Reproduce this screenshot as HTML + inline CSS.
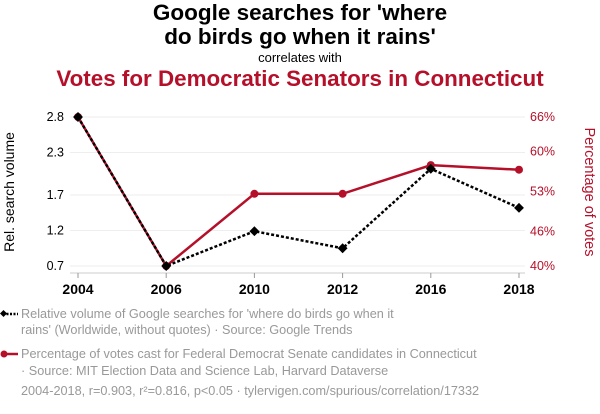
<!DOCTYPE html>
<html><head><meta charset="utf-8"><style>
body{margin:0;width:600px;height:414px;background:#fff;font-family:"Liberation Sans",sans-serif;overflow:hidden;position:relative}
.t{position:absolute;white-space:nowrap}
</style></head><body>
<div class="t" style="left:0;width:600px;text-align:center;top:1px;font-size:22.5px;font-weight:bold;line-height:24px;color:#000">Google searches for 'where<br>do birds go when it rains'</div>
<div class="t" style="left:0;width:600px;text-align:center;top:50px;font-size:13px;color:#000">correlates with</div>
<div class="t" style="left:0;width:600px;text-align:center;top:66px;font-size:22.4px;font-weight:bold;color:#b5102a">Votes for Democratic Senators in Connecticut</div>
<svg id="chart" width="600" height="300" style="position:absolute;left:0;top:0" font-family="Liberation Sans, sans-serif"></svg>
<div class="t" style="left:21px;top:306px;font-size:12.7px;line-height:16px;color:#999">Relative volume of Google searches for 'where do birds go when it<br>rains' (Worldwide, without quotes) · Source: Google Trends</div>
<div class="t" style="left:21px;top:346px;font-size:12.7px;line-height:17px;color:#999">Percentage of votes cast for Federal Democrat Senate candidates in Connecticut<br>· Source: MIT Election Data and Science Lab, Harvard Dataverse</div>
<div class="t" style="left:21px;top:384px;font-size:12.7px;color:#999">2004-2018, r=0.903, r²=0.816, p&lt;0.05 · tylervigen.com/spurious/correlation/17332</div>
<svg width="22" height="80" style="position:absolute;left:0;top:305px">
<line x1="3" y1="9" x2="18" y2="9" stroke="#000" stroke-width="2.5" stroke-dasharray="2,1.5"/><rect x="1" y="6" width="5" height="5" transform="rotate(45 3.5 8.5)" fill="#000"/>
<line x1="3" y1="49" x2="18" y2="49" stroke="#b5102a" stroke-width="2.5"/><circle cx="4" cy="49" r="3.5" fill="#b5102a"/>
</svg>
<script>
const years=["2004","2006","2010","2012","2016","2018"];
const searches=[2.8,0.7,1.19,0.95,2.07,1.52];
const votes=[66,40,52.6,52.6,57.6,56.8];
const leftTicks=[2.8,2.3,1.7,1.2,0.7];
const rightTicks=[66,60,53,46,40];
const ns="http://www.w3.org/2000/svg",svg=document.getElementById('chart');
const x=i=>78+i*88.2;
const yl=v=>117+(2.8-v)/(2.8-0.7)*149;
const yr=v=>117+(66-v)/(66-40)*149;
function el(t,a){const e=document.createElementNS(ns,t);for(const k in a)e.setAttribute(k,a[k]);svg.appendChild(e);return e;}
leftTicks.forEach((v,i)=>{
const g=el('line',{x1:70,x2:525,y1:yl(v),y2:yl(v),stroke:'#eee','stroke-width':1});


const t=el('text',{x:64,y:yl(v)+4,'font-size':12.5,'text-anchor':'end',fill:'#000'});t.textContent=v.toFixed(1);


});
rightTicks.forEach(v=>{
const t=el('text',{x:530,y:yr(v)+4,'font-size':12.5,fill:'#b5102a'});t.textContent=v+'%';


});
const ax=el('line',{x1:70,x2:525,y1:273,y2:273,stroke:'#ccc'});


years.forEach((y,i)=>{
el('line',{x1:x(i),x2:x(i),y1:273,y2:278,stroke:'#999'});
const t=el('text',{x:x(i),y:294,'font-size':14,'font-weight':'bold','text-anchor':'middle'});t.textContent=y;


});
const yt=el('text',{transform:'translate(14,192) rotate(-90)','font-size':14,'text-anchor':'middle'});yt.textContent='Rel. search volume';


const yt2=el('text',{transform:'translate(585,192) rotate(90)','font-size':14.5,'text-anchor':'middle',fill:'#b5102a'});yt2.textContent='Percentage of votes';


const rl=el('polyline',{points:votes.map((v,i)=>x(i)+','+yr(v)).join(' '),fill:'none',stroke:'#b5102a','stroke-width':2.5});


votes.forEach((v,i)=>{const c=el('circle',{cx:x(i),cy:yr(v),r:4,fill:'#b5102a'});

});
const bl=el('polyline',{points:searches.map((v,i)=>x(i)+','+yl(v)).join(' '),fill:'none',stroke:'#000','stroke-width':2.5,'stroke-dasharray':'3,2'});


searches.forEach((v,i)=>{const r=el('rect',{x:x(i)-3.5,y:yl(v)-3.5,width:7,height:7,fill:'#000',transform:`rotate(45 ${x(i)} ${yl(v)})`});

});
</script>
</body></html>
